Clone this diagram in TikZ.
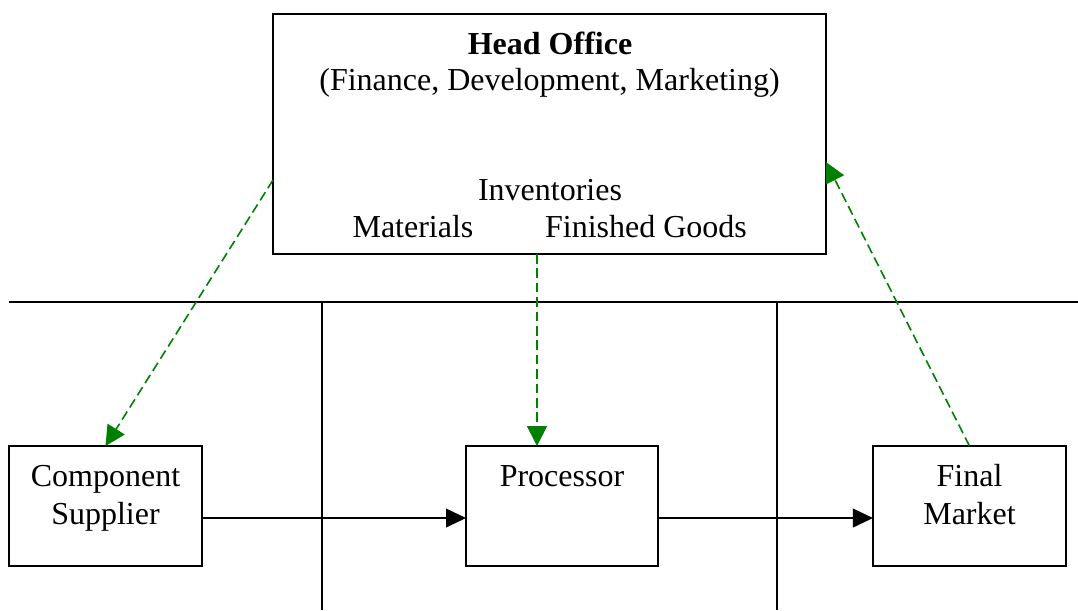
\documentclass[tikz,border=0pt]{standalone}
\usepackage{fontspec}
\setmainfont{Liberation Serif}
\usetikzlibrary{arrows.meta}
\definecolor{arrowgreen}{RGB}{0,128,0}
\begin{document}
\begin{tikzpicture}[x=0.375pt,y=-0.375pt,
  font=\fontsize{12}{13.8}\selectfont,
  box/.style={draw, line width=0.75pt, inner sep=0pt, outer sep=0pt},
  lbl/.style={anchor=base, inner sep=0pt},
  divider/.style={line width=0.7pt},
  flow/.style={line width=0.7pt, -{Triangle[length=7.5pt,width=7pt]}},
  link/.style={arrowgreen, line width=0.6pt, dash pattern=on 3.6pt off 1.8pt, -{Triangle[length=7.5pt,width=7.5pt]}}]
\useasboundingbox (0,0) rectangle (1078,610);
% dividers
\coordinate (hl) at (9,302);
\coordinate (hr) at (1078,302);
\coordinate (v1t) at (322,302);
\coordinate (v1b) at (322,610);
\coordinate (v2t) at (777,302);
\coordinate (v2b) at (777,610);
\draw[divider] (hl) -- (hr);
\draw[divider] (v1t) -- (v1b);
\draw[divider] (v2t) -- (v2b);
% boxes
\node[box, fill=white, minimum width=207.4pt, minimum height=90pt] (ho) at (549.5,134) {};
\node[box, fill=white, minimum width=72.4pt, minimum height=45pt] (cs) at (105.5,506) {};
\node[box, fill=white, minimum width=72pt, minimum height=45pt] (pr) at (562,506) {};
\node[box, fill=white, minimum width=72.4pt, minimum height=45pt] (fm) at (969.5,506) {};
% texts
\node[lbl, font=\fontsize{12}{13.8}\selectfont\bfseries] (t1) at (550,54) {Head Office};
\node[lbl] (t2) at (549.5,90) {(Finance, Development, Marketing)};
\node[lbl] (t3) at (550,200) {Inventories};
\node[lbl] (t4) at (413,237) {Materials};
\node[lbl] (t5) at (646,237) {Finished Goods};
\node[lbl] (t6) at (105.5,486) {Component};
\node[lbl] (t7) at (105.5,524) {Supplier};
\node[lbl] (t8) at (562,486) {Processor};
\node[lbl] (t9) at (969.5,486) {Final};
\node[lbl] (t10) at (969.5,524) {Market};
% flows
\draw[flow] ([yshift=-4.5pt]cs.east) -- ([yshift=-4.5pt]pr.west);
\draw[flow] ([yshift=-4.5pt]pr.east) -- ([yshift=-4.5pt]fm.west);
% green links
\coordinate (a1) at (273,180);
\coordinate (a2) at (537,254);
\coordinate (a3) at (826,162);
\draw[link] (a1) -- (cs.north);
\draw[link] (a2) -- (a2 |- pr.north);
\draw[link] (fm.north) -- (a3);
\end{tikzpicture}
\end{document}
